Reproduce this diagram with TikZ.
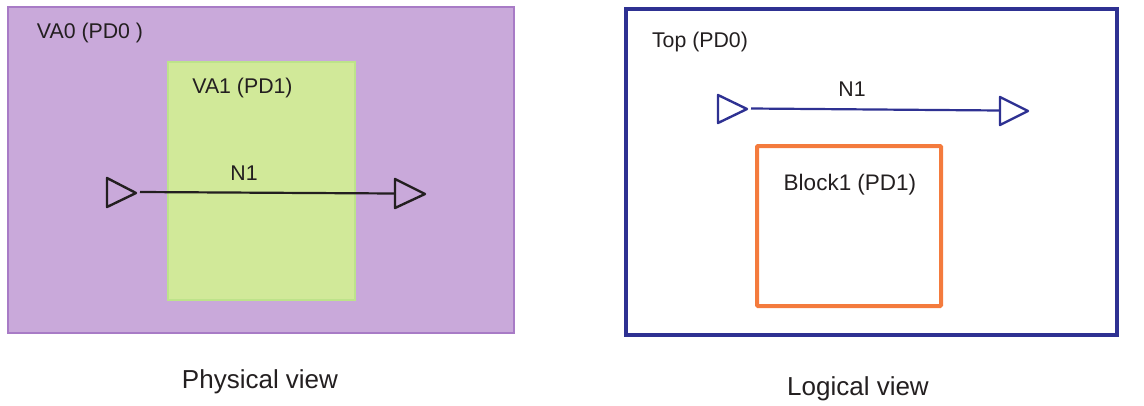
\documentclass[tikz,border=0pt]{standalone}
\usepackage{fontspec}
\setmainfont{Liberation Sans}
\begin{document}
\definecolor{vafill}{HTML}{C9A9DA}
\definecolor{vaedge}{HTML}{A87BC6}
\definecolor{pdfill}{HTML}{D1E999}
\definecolor{pdedge}{HTML}{BDE38A}
\definecolor{topblue}{HTML}{2E3192}
\definecolor{blkorange}{HTML}{F47B3D}
\definecolor{ink}{HTML}{231F20}
\begin{tikzpicture}[x=1pt,y=-1pt,
  lbl/.style={font=\fontsize{21.3}{25}\selectfont, text=ink, inner sep=0pt},
  blklbl/.style={font=\fontsize{22.5}{27}\selectfont, text=ink, inner sep=0pt},
  viewtitle/.style={font=\fontsize{26}{31}\selectfont, text=ink, inner sep=0pt},
  port/.style={line width=2.4pt, line join=round, line cap=round},
  wire/.style={line width=2.2pt}]
\useasboundingbox (0,0) rectangle (1144,405);

% physical view: voltage areas
\draw[fill=vafill, draw=vaedge, line width=1.5pt] (8,7) rectangle (514,333);
\draw[fill=pdfill, draw=pdedge, line width=1.2pt] (168,62) rectangle (355,300);
\node[lbl] (va0) at (90,33) {VA0 (PD0 )};
\node[lbl] (va1) at (242.5,88) {VA1 (PD1)};

% physical view: net N1 between two ports
\draw[port, ink] (107,178) -- (136,193) -- (107,207) -- cycle;
\draw[port, ink] (395,179) -- (425,194) -- (395,208) -- cycle;
\coordinate (pin) at (140,192);
\coordinate (pout) at (395,193.5);
\draw[wire, ink] (pin) -- (pout);
\node[lbl] (pn1) at (244,173) {N1};

\node[viewtitle] (phys) at (260,382) {Physical view};

% logical view: hierarchy
\draw[draw=topblue, line width=4pt] (625.5,9) rectangle (1117,334.5);
\node[lbl] (top) at (700,42) {Top (PD0)};
\draw[draw=blkorange, line width=4pt, rounded corners=1pt] (757,146) rectangle (941,306);
\node[blklbl] (blk) at (850,185) {Block1 (PD1)};

% logical view: net N1 between two ports
\draw[port, topblue] (718,95) -- (747,109) -- (718,123) -- cycle;
\draw[port, topblue] (1000,97) -- (1028,111) -- (1000,125) -- cycle;
\coordinate (lin) at (751,108.5);
\coordinate (lout) at (1000,110.5);
\draw[wire, topblue] (lin) -- (lout);
\node[lbl] (ln1) at (852,89) {N1};

\node[viewtitle] (logi) at (858,389) {Logical view};
\end{tikzpicture}
\end{document}
